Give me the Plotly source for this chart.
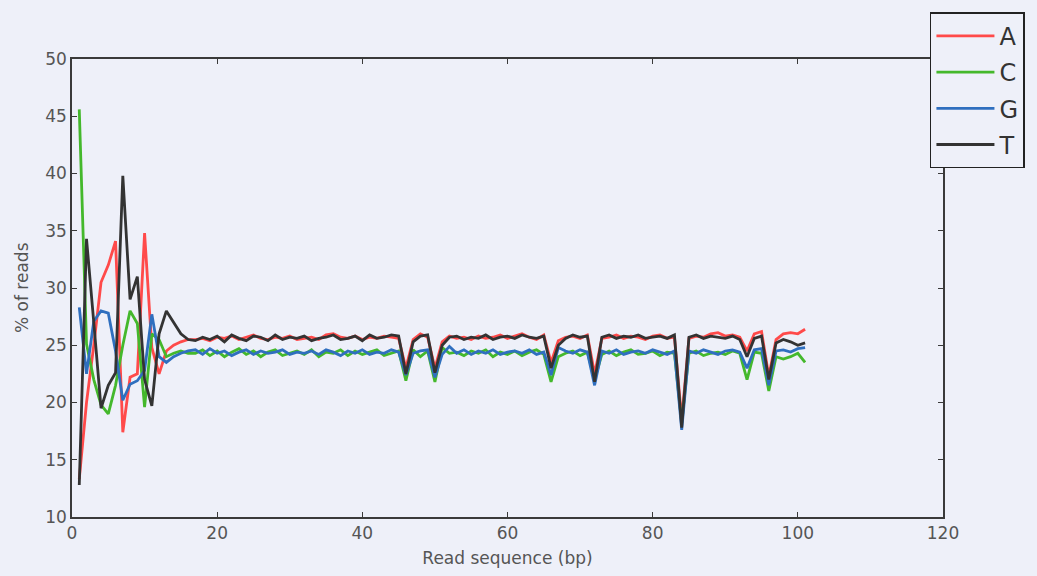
import plotly.graph_objects as go

positions = list(range(1, 102))

pct_A = [13.3, 20.0, 25.0, 30.5, 32.0, 34.1, 17.4, 22.2, 22.5, 34.8, 24.8, 22.5, 24.5, 25.0, 25.3, 25.5,
         25.5, 25.6, 25.4, 25.7, 25.6, 25.8, 25.5, 25.7, 25.9, 25.6, 25.5, 25.7, 25.6, 25.8, 25.5, 25.6, 25.7, 25.5, 25.9, 26.0, 25.7, 25.6, 25.8, 25.5, 25.7, 25.6, 25.8, 25.7, 25.6,
         23.0, 25.5, 26.0, 25.7, 23.0, 25.3, 25.8,
         25.6, 25.7, 25.5, 25.8, 25.6, 25.7, 25.9, 25.6, 25.8, 26.0, 25.7, 25.5, 25.9,
         23.5, 25.4,
         25.7, 25.8, 25.6, 25.9,
         22.5,
         25.6, 25.7, 25.9, 25.6, 25.8, 25.7, 25.5, 25.8, 25.9, 25.6, 25.7,
         18.5,
         25.6, 25.8, 25.7, 26.0, 26.1, 25.8, 25.9, 25.7,
         24.5, 26.0, 26.2, 22.3, 25.5, 26.0, 26.1, 26.0, 26.4]

pct_C = [45.6, 25.1, 22.0, 19.8, 19.0, 21.5, 25.0, 28.0, 26.9, 19.6, 26.0, 25.5, 24.0, 24.3, 24.5, 24.3,
         24.3, 24.6, 24.1, 24.5, 24.0, 24.4, 24.7, 24.2, 24.5, 24.0, 24.4, 24.6, 24.1, 24.3, 24.5, 24.2, 24.6, 24.0, 24.4, 24.3, 24.6, 24.1, 24.5, 24.2, 24.4, 24.6, 24.1, 24.3, 24.5,
         21.9, 24.6, 24.0, 24.5, 21.8, 24.8, 24.3,
         24.4, 24.1, 24.5, 24.3, 24.6, 24.0, 24.4, 24.2, 24.5, 24.1, 24.4, 24.6, 24.2,
         21.8, 24.0,
         24.3, 24.5, 24.1, 24.4,
         22.0,
         24.2, 24.5, 24.1, 24.4, 24.6, 24.2, 24.3, 24.5, 24.1, 24.4, 24.3,
         18.2,
         24.3, 24.5, 24.1, 24.3, 24.4, 24.2, 24.5, 24.3,
         22.0, 24.4, 24.3, 21.0, 24.0, 23.8, 24.0, 24.3, 23.5]

pct_G = [28.3, 22.5, 27.1, 28.0, 27.8, 24.5, 20.2, 21.6, 21.9, 22.8, 27.7, 24.0, 23.5, 24.0, 24.3, 24.5,
         24.6, 24.2, 24.7, 24.3, 24.5, 24.1, 24.4, 24.6, 24.2, 24.5, 24.3, 24.4, 24.6, 24.2, 24.4, 24.3, 24.5, 24.2, 24.6, 24.4, 24.1, 24.5, 24.3, 24.6, 24.2, 24.4, 24.3, 24.6, 24.4,
         22.4, 24.3, 24.5, 24.6, 22.2, 24.2, 24.9,
         24.3, 24.6, 24.2, 24.5, 24.3, 24.6, 24.2, 24.4, 24.5, 24.3, 24.6, 24.2, 24.4,
         22.4, 24.8,
         24.5, 24.3, 24.6, 24.4,
         21.5,
         24.5, 24.3, 24.6, 24.2, 24.4, 24.5, 24.3, 24.6, 24.4, 24.2, 24.5,
         17.6,
         24.5, 24.3, 24.6, 24.4, 24.2, 24.5, 24.6, 24.4,
         23.0, 24.6, 24.7, 21.5, 24.5, 24.6, 24.4, 24.7, 24.8]

pct_T = [12.8, 34.3, 27.0, 19.5, 21.5, 22.6, 39.8, 29.0, 31.0, 22.0, 19.7, 26.0, 28.0, 27.0, 26.0, 25.5,
         25.4, 25.7, 25.5, 25.8, 25.3, 25.9, 25.6, 25.4, 25.8, 25.7, 25.4, 25.9, 25.5, 25.7, 25.6, 25.8, 25.4, 25.6, 25.7, 25.9, 25.5, 25.6, 25.8, 25.4, 25.9, 25.6, 25.7, 25.9, 25.8,
         22.5, 25.3, 25.8, 25.9, 22.6, 25.0, 25.7,
         25.8, 25.5, 25.7, 25.6, 25.9, 25.5, 25.7, 25.8, 25.6, 25.9, 25.7, 25.6, 25.8,
         23.0, 25.0,
         25.6, 25.9, 25.7, 25.8,
         21.8,
         25.7, 25.9, 25.6, 25.8, 25.7, 25.9, 25.6, 25.7, 25.8, 25.6, 25.9,
         17.8,
         25.7, 25.9, 25.6, 25.8, 25.7, 25.6, 25.8, 25.5,
         24.0, 25.6, 25.8, 22.0, 25.2, 25.5, 25.3, 25.0, 25.2]

series_names = ["A", "C", "G", "T"]
series_values = [pct_A, pct_C, pct_G, pct_T]
series_colors = ["#ff4a4a", "#44b82c", "#2f6fbf", "#333333"]

x_ticks = [0, 20, 40, 60, 80, 100, 120]
y_ticks = [10, 15, 20, 25, 30, 35, 40, 45, 50]

bg = "#eef0f9"
font_family = "DejaVu Sans, sans-serif"
text_color = "#555555"

fig = go.Figure()
for name, vals, col in zip(series_names, series_values, series_colors):
    fig.add_trace(go.Scatter(
        x=positions, y=vals, mode="lines", name=name,
        legendgroup=name,
        line=dict(color=col, width=2.8),
    ))

axis_common = dict(
    showgrid=False, zeroline=False,
    showline=True, linecolor="#3a3a3a", linewidth=1.5,
    mirror="ticks", ticks="inside", ticklen=5, tickcolor="#3a3a3a",
    tickfont=dict(size=17, color=text_color, family=font_family),
)

fig.update_layout(
    width=1037, height=576,
    margin=dict(l=72, r=94, t=57, b=59),
    paper_bgcolor=bg, plot_bgcolor=bg,
    font=dict(family=font_family, color=text_color),
    xaxis=dict(range=[0, 120], tickvals=x_ticks,
               title=dict(text="Read sequence (bp)", font=dict(size=17, color=text_color), standoff=10),
               **axis_common),
    yaxis=dict(range=[10, 50], tickvals=y_ticks, **axis_common),
    legend=dict(
        x=0.985, y=1.102, xanchor="left", yanchor="top",
        bgcolor=bg, bordercolor="#222222", borderwidth=1.5,
        font=dict(size=24, color="#333333", family=font_family),
        tracegroupgap=2, itemwidth=58,
    ),
    showlegend=True,
    annotations=[dict(
        text="% of reads", textangle=-90, showarrow=False,
        xref="paper", yref="paper", x=-0.0574, y=0.5,
        xanchor="center", yanchor="middle",
        font=dict(size=17, color=text_color, family=font_family),
    )],
)

fig.write_html(
    "out.html",
    config={"displayModeBar": False},
    post_script="document.body.style.margin='0';document.body.style.background='#eef0f9';",
)
